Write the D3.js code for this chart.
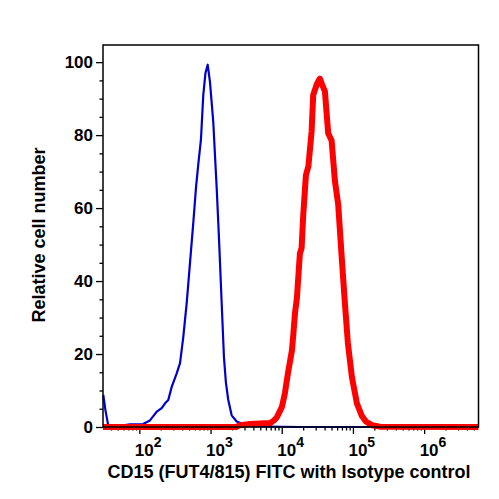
<!DOCTYPE html>
<html>
<head>
<meta charset="utf-8">
<script src="https://cdn.jsdelivr.net/npm/d3@7"></script>
<style>
html,body{margin:0;padding:0;background:#fff;}
svg{display:block;font-family:"Liberation Sans",Arial,sans-serif;font-weight:bold;}
</style>
</head>
<body>
<svg id="chart" width="499" height="499"></svg>
<script>
// Isotype control (blue)
const blueX = [31.2, 33.5, 36.7, 53.6, 74.1, 113, 141, 176, 206, 230, 255, 285, 335, 373, 415, 463, 515, 573, 625, 673, 735, 791, 849, 912, 982, 1093, 1155, 1220, 1314, 1434, 1545, 1648, 1775, 1981, 2328, 2881, 3579, 18000, 5800000];
const blueY = [8.8, 4.5, 0.3, 0.3, 0.7, 0.8, 1.8, 4.2, 5.2, 6.5, 7.4, 11, 14.7, 17.5, 24.8, 34, 45, 56, 65.6, 72, 79, 91, 97, 99.3, 94.6, 83.6, 74.5, 65.6, 51.8, 34, 19, 12, 7.4, 3.2, 1.5, 0.8, 0.2, 0, 0];
// CD15 (FUT4/815) FITC (red)
const redX = [30.9, 2300, 2590, 3579, 5812, 6830, 7773, 8561, 10060, 11090, 12220, 13910, 14600, 15320, 16340, 18000, 19020, 20040, 21860, 23700, 26280, 27680, 31190, 34370, 36660, 40400, 44930, 50170, 55820, 62090, 69290, 77090, 84940, 96670, 113600, 133600, 152000, 184500, 238900, 5800000];
const redY = [0, 0, 0.5, 0.8, 1, 1, 1.8, 2.7, 5.5, 9.3, 14.7, 21, 25.7, 31, 35.4, 47.6, 49, 58, 69, 71.5, 81, 91, 94, 95.5, 94, 92, 80.5, 78.5, 67.5, 61, 47, 34, 23, 13.7, 6.5, 3, 1.5, 0.5, 0.1, 0];

const xMajorTicks = [100, 1000, 10000, 100000, 1000000];
const xTickBase = ["10", "10", "10", "10", "10"];
const xTickExp = ["2", "3", "4", "5", "6"];
const yMajorTicks = [0, 20, 40, 60, 80, 100];
const yMinorTicks = [5, 10, 15, 25, 30, 35, 45, 50, 55, 65, 70, 75, 85, 90, 95];
const xTitle = "CD15 (FUT4/815) FITC with Isotype control";
const yTitle = "Relative cell number";

const svg = d3.select("#chart");
const L = 103, R = 478.5, T = 45, B = 427;
const x = d3.scaleLog().domain([30.9, 5800000]).range([L, R]);
const y = d3.scaleLinear().domain([0, 104.7]).range([B, T]);

// minor x ticks
const xMinor = [];
for (let e = 1; e <= 6; e++) for (let k = 2; k <= 9; k++) {
  const v = k * Math.pow(10, e);
  if (v >= x.domain()[0] && v <= x.domain()[1]) xMinor.push(v);
}

const gx1 = svg.append("g").attr("transform", `translate(0,${B})`)
  .call(d3.axisBottom(x).tickValues(xMinor).tickSize(3.5).tickFormat(""));
const gx2 = svg.append("g").attr("transform", `translate(0,${B})`)
  .call(d3.axisBottom(x).tickValues(xMajorTicks).tickSize(7).tickFormat(""));
const gy1 = svg.append("g").attr("transform", `translate(${L},0)`)
  .call(d3.axisLeft(y).tickValues(yMinorTicks).tickSize(3.5).tickFormat(""));
const gy2 = svg.append("g").attr("transform", `translate(${L},0)`)
  .call(d3.axisLeft(y).tickValues(yMajorTicks).tickSize(7).tickFormat(""));
[gx1, gx2, gy1, gy2].forEach(g => {
  g.select(".domain").remove();
  g.selectAll(".tick line").attr("stroke", "#000").attr("stroke-width", 1.3);
});

// y tick labels
svg.append("g").selectAll("text").data(yMajorTicks).join("text")
  .attr("x", L - 10).attr("y", d => y(d)).attr("dy", "0.36em")
  .attr("text-anchor", "end").attr("font-size", 17).attr("fill", "#000")
  .text(d => d);

// x tick labels with superscripts
const xl = svg.append("g").selectAll("text").data(xMajorTicks).join("text")
  .attr("x", d => x(d) - 4.5).attr("y", 456)
  .attr("font-size", 17).attr("fill", "#000");
xl.append("tspan").text((d, i) => xTickBase[i]);
xl.append("tspan").attr("dy", -9.5).attr("font-size", 14).text((d, i) => xTickExp[i]);

// titles
svg.append("text").attr("x", 289).attr("y", 478).attr("text-anchor", "middle")
  .attr("font-size", 18).attr("fill", "#000").text(xTitle);
svg.append("text").attr("transform", `translate(45,${(T + B) / 2 - 1}) rotate(-90)`)
  .attr("text-anchor", "middle").attr("font-size", 18).attr("fill", "#000").text(yTitle);

// curves
const line = d3.line().x(d => x(d[0])).y(d => y(d[1]));
svg.append("path").datum(blueX.map((v, i) => [v, blueY[i]]))
  .attr("d", line).attr("fill", "none").attr("stroke", "#0000cd")
  .attr("stroke-width", 2.2).attr("stroke-linejoin", "round");
svg.append("path").datum(redX.map((v, i) => [v, redY[i]]))
  .attr("d", line).attr("fill", "none").attr("stroke", "#ff0000")
  .attr("stroke-width", 6).attr("stroke-linejoin", "round");

// frame
svg.append("rect").attr("x", L).attr("y", T).attr("width", R - L).attr("height", B - T)
  .attr("fill", "none").attr("stroke", "#000").attr("stroke-width", 1.5);
</script>
</body>
</html>
